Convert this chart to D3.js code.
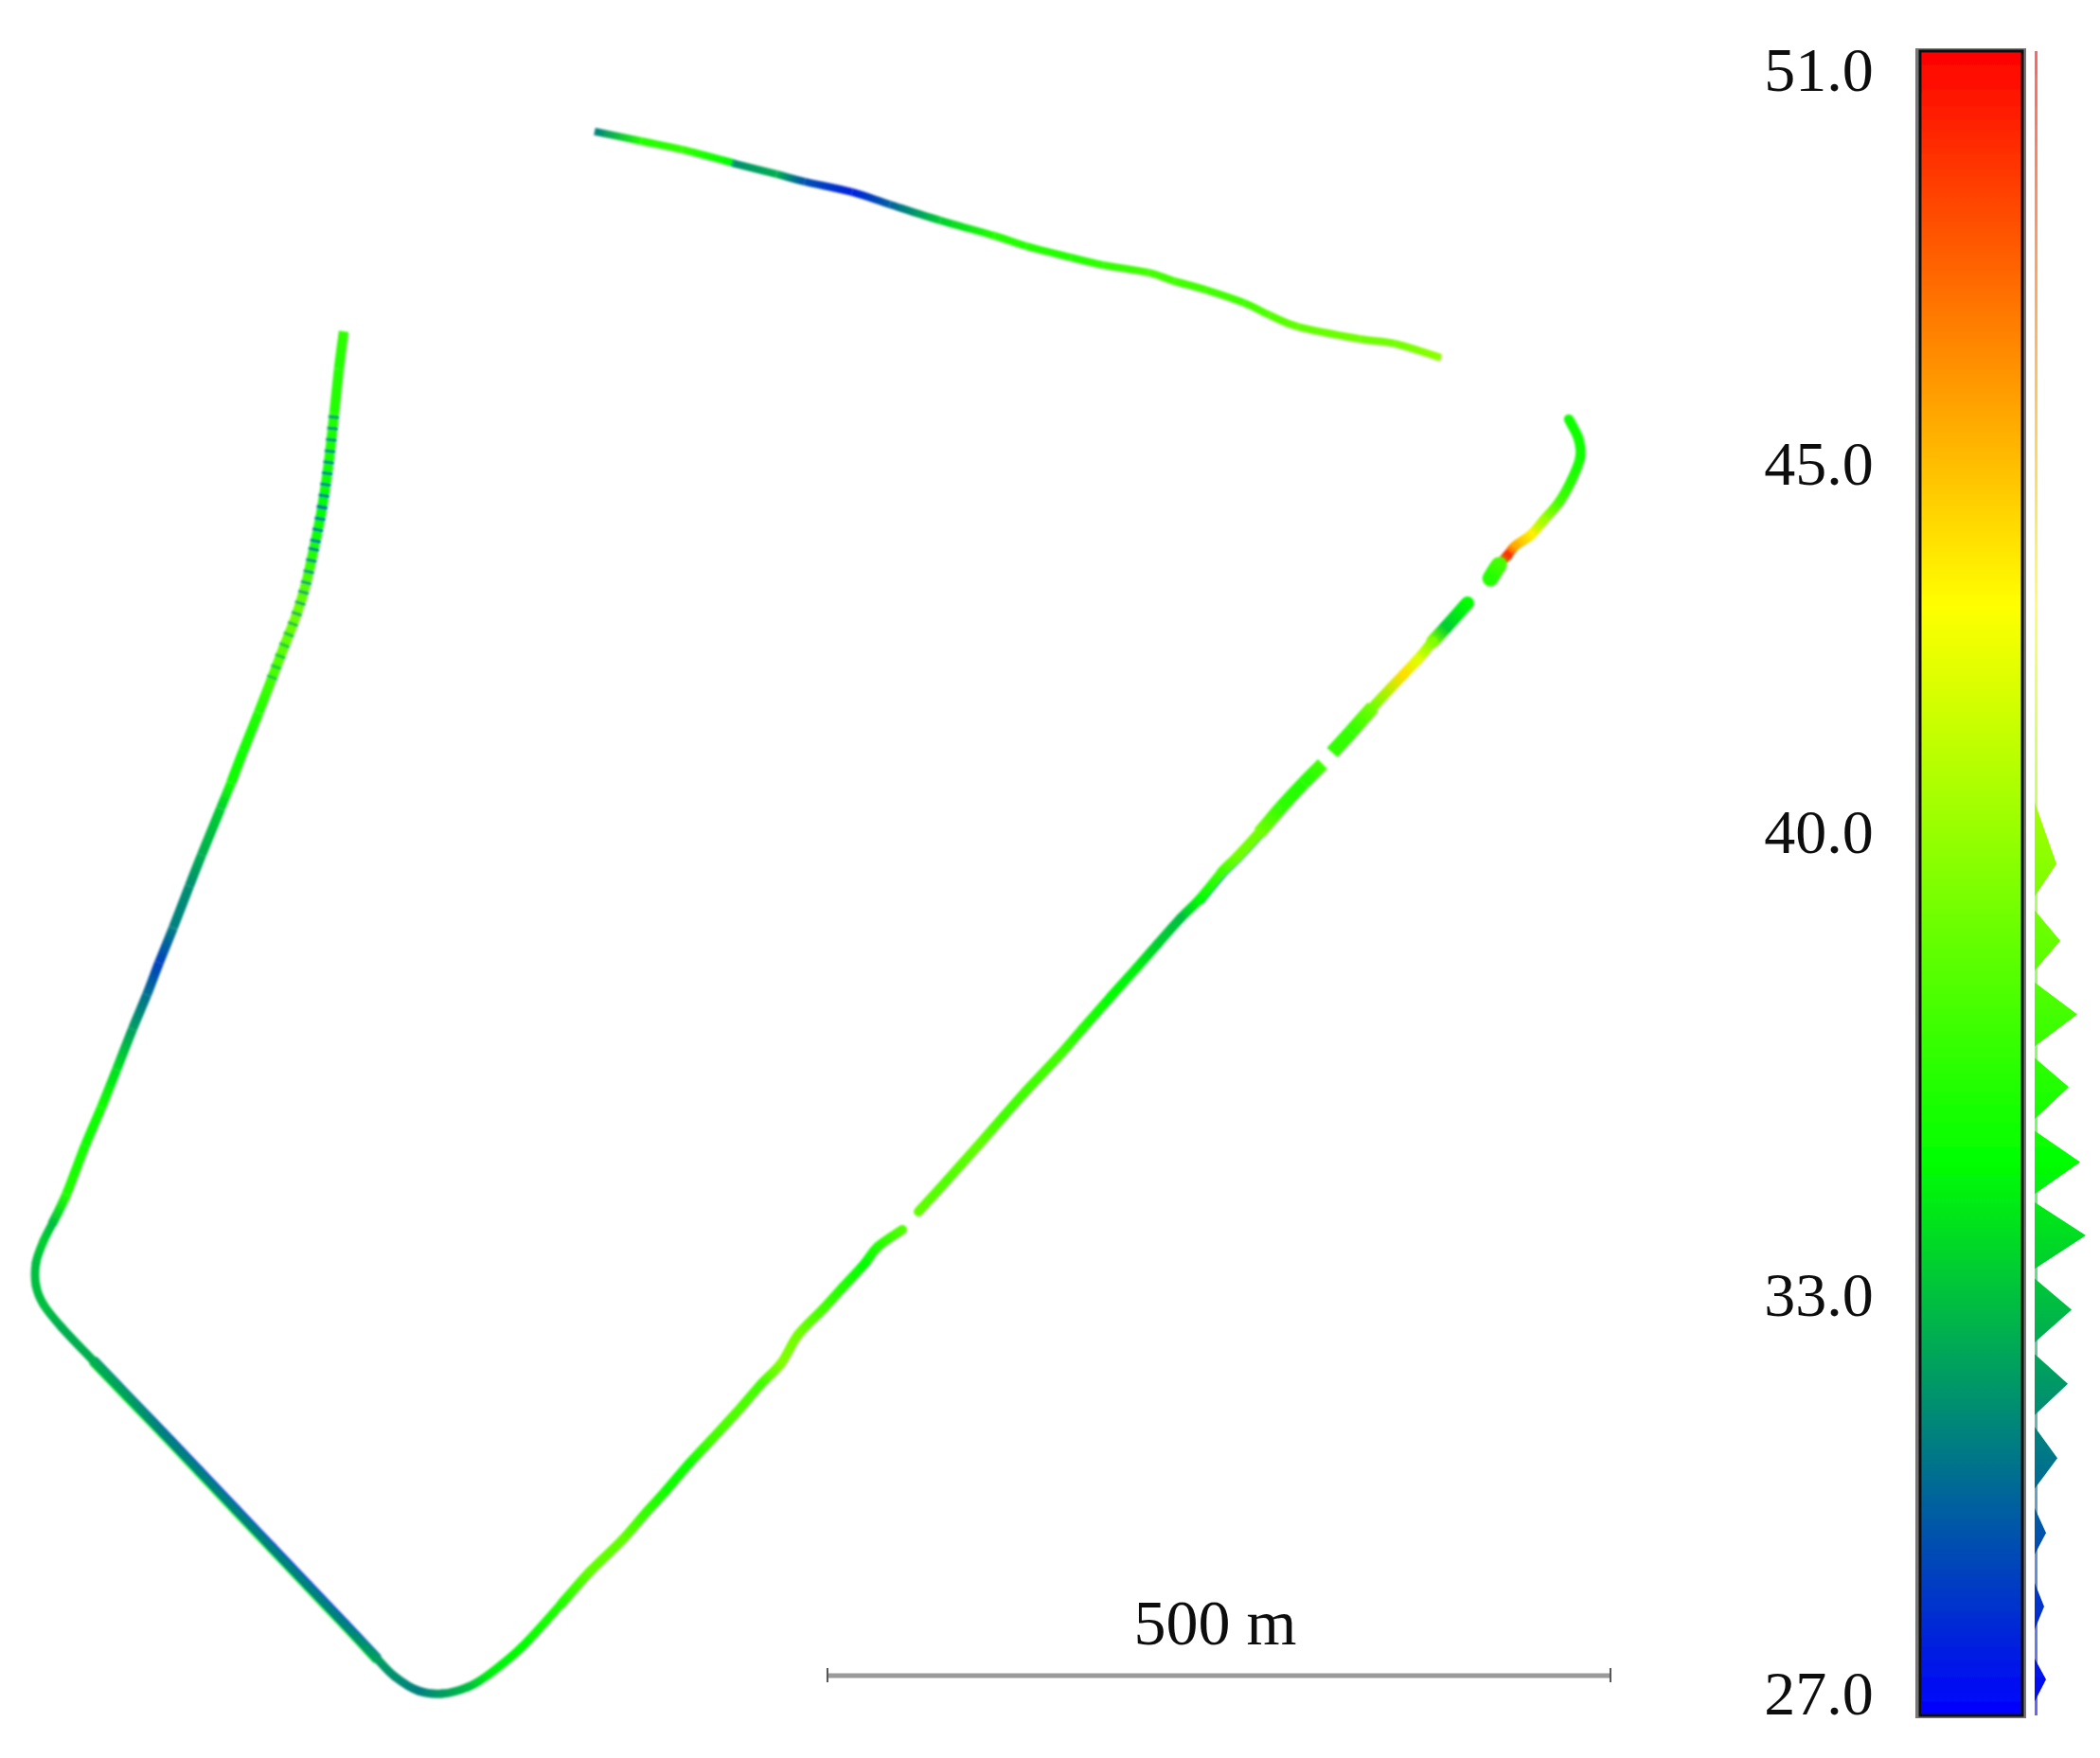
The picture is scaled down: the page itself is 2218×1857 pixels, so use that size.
<!DOCTYPE html>
<html><head><meta charset="utf-8">
<script src="https://cdn.jsdelivr.net/npm/d3@7/dist/d3.min.js"></script>
<style>html,body{margin:0;padding:0;background:#fff}svg{display:block}</style></head><body>
<div id="chart"></div>
<script>
// ---- Track pieces: easting (m), northing (m), value ----
const topE=[379.7,409.3,435.3,466.5,468.5,495.8,513.9,544.1,568.3,600.4,634.8,655.4,683.8,704.4,733.4,749.7,769.7,794.4,810.8,828.9,868.2,890.6,920.2];
const topN=[1038.7,1032.6,1027.2,1019.1,1018.4,1011.5,1006.7,1000.0,992.1,981.9,972.2,965.5,958.3,953.5,948.6,943.2,937.7,929.3,921.4,914.1,906.3,903.3,894.2];
const topV=[31,36,36.5,35,31.5,32.5,29.5,28,30,33.5,36,36,36,36.5,37,37,37,37,37.5,38,38.5,38.5,39.5];

const hookE=[1001.8,1007.9,1009.1,1003.6,995.8,985.5,977.6,967.4,962.5,957.1,951.7];
const hookN=[854.9,842.8,830.7,816.2,802.3,790.2,781.1,773.9,767.8,761.8,753.3];
const hookV=[35.5,35.5,35.5,36,37,40,43.5,45.5,49.5,37,36];

const upperE=[937.1,923.2,914.8,905.1,896.0,876.7,862.8,850.7];
const upperN=[737.6,721.9,712.8,701.3,691.7,671.1,655.4,642.1];
const upperV=[35,33.5,39,42,44,38.5,36.5,36.5];

const midE=[844.6,832.5,818.0,804.1,790.2,779.9,766.0,753.9,739.4,725.5,709.2,691.1,675.3,654.8,640.9,624.6,604.6,586.5];
const midN=[634.8,622.7,607.0,590.7,575.6,565.3,548.4,536.3,520.0,504.2,486.1,465.5,447.4,425.6,409.9,391.2,368.8,348.9];
const midV=[37,36,36.5,38.5,38.5,37,35,33,33.5,34.5,35,36,37,37,37,38,37.5,38];

const lowE=[576.2,560.5,552.0,538.1,526.0,509.7,498.8,485.5,469.8,453.5,439.5,425.0,412.9,397.2,376.7,358.5,333.1,312.0,298.7,282.3,267.2,252.1,240.6,220.1,196.5,173.5,150.5,127.0,104.0,81.0,59.9,39.3,27.8,23.0,23.0,27.8,33.3];
const lowN=[337.4,326.5,315.6,300.5,287.2,270.3,252.1,238.2,220.1,202.5,187.4,170.5,157.2,139.1,119.1,98.5,70.7,53.2,45.3,41.1,42.9,52.0,63.5,85.2,110.0,134.2,158.4,183.2,207.4,231.3,253.3,275.1,289.6,301.7,316.2,330.1,341.0];
const lowV=[37.5,36,35,36,37,38.5,39,37,37.5,37,35.5,35.5,36.5,38,38,36,35,34.5,33,32,31,31.5,32,31,31,31,31,31,31,32,32.5,32.5,33,33,33,33.5,33];

const leftE=[33.3,42.3,54.4,64.7,74.4,84.6,93.7,101.6,110.6,120.9,128.8,140.9,147.5,155.4,165.1,173.5,181.4,189.2,195.3,201.3,205.6,209.8,213.4,216.4,219.5];
const leftN=[341.0,359.7,391.2,415.4,439.5,465.5,487.3,507.9,530.2,556.8,576.8,606.4,622.7,643.3,667.5,689.2,709.8,729.8,749.7,776.3,798.1,826.5,858.5,887.0,911.1];
const leftV=[33,36,35.5,35.5,34,32,30.5,29,31,31.5,32.5,33.5,35.5,35.5,36,37,38,38.5,37.5,35.5,35,35.5,36,36,36.5];

// second-pass returns showing at the edge of the main strip
const passOuterE=[242.2,221.7,198.1,175.1,152.1,128.6,105.6,82.6,61.5];
const passOuterN=[65.1,86.8,111.6,135.8,160,184.8,209,232.9,254.9];
const passOuterV=[30,28,27.5,27.5,27.5,28,29,30,31];
const passInnerE=[239,218.5,194.9,171.9,148.9,125.4,102.4,79.4,58.3];
const passInnerN=[61.9,83.6,108.4,132.6,156.8,181.6,205.8,229.7,251.7];
const passInnerV=[34,36,36,36,36,36,36,35,34];
const passRightE=[819.8,805.9,792,781.7,767.8];
const passRightN=[605.2,588.9,573.8,563.5,546.6];
const passRightV=[31,32,30.5,30,33];

// across-track striping on the north-west leg
const stripeE=[173.5,181.4,189.2,195.3,201.3,205.6,209.8,213.4];
const stripeN=[689.2,709.8,729.8,749.7,776.3,798.1,826.5,858.5];
const stripeV=[33,33,32,31,29.5,29,30,31];

// ---- Colour bar ----
const colorDomain=[27,35,43,51];
const colorRange=["#0000ff","#00ff00","#ffff00","#ff0000"];
const tickValues=[51,45,40,33,27];
const tickLabels=["51.0","45.0","40.0","33.0","27.0"];

// ---- Histogram beside the bar ----
const histLow =[27.20,28.24,29.32,30.27,31.33,32.38,33.44,34.52,35.60,36.65,37.74,38.81];
const histPeak=[27.52,28.57,29.63,30.71,31.78,32.85,33.92,34.98,36.06,37.11,38.17,39.28];
const histHigh=[27.82,28.91,29.99,31.16,32.21,33.30,34.40,35.43,36.48,37.57,38.61,40.17];
const histCount=[12,10,12,24,35,39,54,48,36,45,27,23];

// ---- Scale bar ----
const scaleBarMetres=500;
const scaleBarLabel="500 m";

const W=2218,H=1857;
const svg=d3.select("#chart").append("svg").attr("width",W).attr("height",H).attr("viewBox",`0 0 ${W} ${H}`);
const defs=svg.append("defs");
const x=d3.scaleLinear().domain([0,1341]).range([0,W]);
const y=d3.scaleLinear().domain([0,1122.7]).range([H,0]);
const color=d3.scaleLinear().domain(colorDomain).range(colorRange);
const barY=d3.scaleLinear().domain([27,51]).range([1812,54]);
const labelY=d3.scaleLinear().domain([27,33,40,45,51]).range([1811,1390,901,512,96]);
const histX=d3.scaleLinear().domain([0,54]).range([2149,2203]);

const soft=(id,s)=>defs.append("filter").attr("id",id).attr("filterUnits","userSpaceOnUse")
  .attr("x",0).attr("y",0).attr("width",W).attr("height",H)
  .append("feGaussianBlur").attr("stdDeviation",s);
soft("softTrack",0.8); soft("softText",0.45); soft("softBar",0.5);

// ---- Track drawing: each span is a smooth cubic with its own gradient ----
const map=svg.append("g").attr("filter","url(#softTrack)");
let gid=0;
function drawSpan(E,N,V,from,to,width,opts={}){
  const last=E.length-1;
  const px=i=>x(E[Math.max(0,Math.min(last,i))]);
  const py=i=>y(N[Math.max(0,Math.min(last,i))]);
  for(let i=from;i<to;i++){
    const id="t"+(gid++);
    const x1=px(i),y1=py(i),x2=px(i+1),y2=py(i+1);
    const c1x=x1+(x2-px(i-1))/6,c1y=y1+(y2-py(i-1))/6;
    const c2x=x2-(px(i+2)-x1)/6,c2y=y2-(py(i+2)-y1)/6;
    const g=defs.append("linearGradient").attr("id",id).attr("gradientUnits","userSpaceOnUse")
      .attr("x1",x1).attr("y1",y1).attr("x2",x2).attr("y2",y2);
    g.append("stop").attr("offset",0).attr("stop-color",color(V[i]));
    g.append("stop").attr("offset",1).attr("stop-color",color(V[i+1]));
    const p=d3.path();
    p.moveTo(x1,y1);
    p.bezierCurveTo(c1x,c1y,c2x,c2y,x2,y2);
    map.append("path").attr("d",p.toString()).attr("fill","none")
      .attr("stroke",`url(#${id})`).attr("stroke-width",width)
      .attr("stroke-linecap",opts.cap||"round")
      .attr("stroke-dasharray",opts.dash||null)
      .attr("opacity",opts.opacity||null);
  }
}
drawSpan(passOuterE,passOuterN,passOuterV,0,8,4);
drawSpan(passInnerE,passInnerN,passInnerV,0,8,4);
drawSpan(passRightE,passRightN,passRightV,0,4,4);

drawSpan(topE,topN,topV,0,22,8,{cap:"butt"});
drawSpan(hookE,hookN,hookV,0,9,10.5);
drawSpan(hookE,hookN,hookV,9,10,17);
drawSpan(upperE,upperN,upperV,0,2,14);
drawSpan(upperE,upperN,upperV,2,5,11);
drawSpan(upperE,upperN,upperV,5,7,15,{cap:"butt"});
drawSpan(midE,midN,midV,0,3,14,{cap:"butt"});
drawSpan(midE,midN,midV,3,5,11);
drawSpan(midE,midN,midV,5,17,10);
drawSpan(lowE,lowN,lowV,0,15,10);
drawSpan(lowE,lowN,lowV,15,36,9);
drawSpan(leftE,leftN,leftV,0,12,10,{cap:"butt"});
drawSpan(leftE,leftN,leftV,12,24,10.5,{cap:"butt"});
drawSpan(stripeE,stripeN,stripeV,0,7,11.5,{cap:"butt",dash:"3 9",opacity:0.8});

// ---- Scale bar ----
const sb=svg.append("g").attr("filter","url(#softBar)");
const sbE0=528.4,sbN=52.6;
sb.append("line").attr("x1",x(sbE0)).attr("x2",x(sbE0+scaleBarMetres)).attr("y1",y(sbN)).attr("y2",y(sbN))
  .attr("stroke","#9a9a9a").attr("stroke-width",5);
[sbE0,sbE0+scaleBarMetres].forEach(e=>sb.append("line").attr("x1",x(e)).attr("x2",x(e))
  .attr("y1",y(sbN)-8).attr("y2",y(sbN)+7).attr("stroke","#555").attr("stroke-width",2));
svg.append("text").attr("x",x(sbE0+scaleBarMetres/2)-4).attr("y",1737).attr("text-anchor","middle")
  .attr("font-family","'Liberation Serif',serif").attr("font-size",68).attr("fill","#111")
  .attr("filter","url(#softText)").text(scaleBarLabel);

// ---- Colour bar ----
const grad=defs.append("linearGradient").attr("id","bar").attr("gradientUnits","userSpaceOnUse")
  .attr("x1",0).attr("x2",0).attr("y1",barY(27)).attr("y2",barY(51));
colorDomain.forEach((v,i)=>grad.append("stop").attr("offset",i/(colorDomain.length-1)).attr("stop-color",colorRange[i]));
const bar=svg.append("g").attr("filter","url(#softBar)");
bar.append("rect").attr("x",2023).attr("width",117).attr("y",barY(51)-3).attr("height",barY(27)-barY(51)+6).attr("fill","#777");
bar.append("rect").attr("x",2028).attr("width",108).attr("y",barY(51)).attr("height",barY(27)-barY(51))
  .attr("fill","url(#bar)").attr("stroke","#111").attr("stroke-width",3);

// ---- Histogram ----
const hist=svg.append("g").attr("filter","url(#softBar)");
hist.append("rect").attr("x",2149).attr("width",3).attr("y",barY(51)).attr("height",barY(27)-barY(51))
  .attr("fill","url(#bar)").attr("opacity",0.6);
const spike=d3.area().x0(histX(0)).x1(d=>histX(d.c)).y(d=>barY(d.v));
histPeak.forEach((p,i)=>{
  hist.append("path").attr("fill","url(#bar)")
    .attr("d",spike([{v:histLow[i],c:0},{v:p,c:histCount[i]},{v:histHigh[i],c:0}]));
});

// ---- Tick labels ----
svg.append("g").selectAll("text").data(tickValues).join("text")
  .attr("x",1921).attr("y",d=>labelY(d)).attr("text-anchor","middle")
  .attr("font-family","'Liberation Serif',serif").attr("font-size",66).attr("fill","#111")
  .attr("filter","url(#softText)")
  .text((d,i)=>tickLabels[i]);
</script></body></html>
